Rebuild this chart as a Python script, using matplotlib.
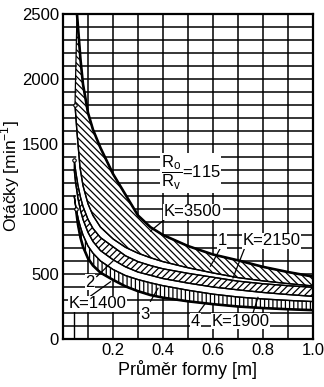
import numpy as np
import matplotlib.pyplot as plt

plt.rcParams['font.family'] = ['Liberation Sans', 'DejaVu Sans']
plt.rcParams['mathtext.fontset'] = 'custom'
plt.rcParams['mathtext.rm'] = 'Liberation Sans'
plt.rcParams['hatch.linewidth'] = 0.9

# curves: diameter [m] -> speed [1/min]
d_a = [0.056, 0.07, 0.08, 0.1, 0.12, 0.15, 0.2, 0.25, 0.3, 0.35, 0.4, 0.5, 0.6, 0.7, 0.8, 0.9, 1.0]
n_a = [2500, 2150, 1960, 1740, 1610, 1470, 1270, 1110, 950, 860, 800, 715, 650, 605, 555, 515, 480]

d_b = [0.048, 0.056, 0.068, 0.08, 0.1, 0.12, 0.15, 0.2, 0.25, 0.3, 0.35, 0.4, 0.5, 0.6, 0.7, 0.8, 0.9, 1.0]
n_b = [1800, 1590, 1320, 1180, 1040, 950, 860, 770, 705, 660, 625, 595, 548, 508, 472, 447, 426, 408]

d_c = [0.045, 0.05, 0.06, 0.07, 0.08, 0.1, 0.12, 0.15, 0.2, 0.25, 0.3, 0.35, 0.4, 0.5, 0.6, 0.7, 0.8, 0.9, 1.0]
n_c = [1380, 1300, 1180, 1090, 1020, 920, 850, 780, 710, 640, 595, 565, 540, 505, 475, 445, 425, 410, 398]

d_d = [0.045, 0.05, 0.06, 0.07, 0.08, 0.1, 0.12, 0.15, 0.2, 0.25, 0.3, 0.35, 0.4, 0.5, 0.6, 0.7, 0.8, 0.9, 1.0]
n_d = [1300, 1210, 1080, 990, 920, 820, 750, 680, 610, 555, 515, 490, 465, 430, 400, 378, 358, 342, 328]

d_e = [0.045, 0.05, 0.06, 0.07, 0.08, 0.1, 0.12, 0.15, 0.2, 0.25, 0.3, 0.35, 0.4, 0.5, 0.6, 0.7, 0.8, 0.9, 1.0]
n_e = [1100, 1030, 930, 860, 800, 715, 660, 600, 535, 488, 457, 432, 410, 375, 345, 323, 308, 297, 288]

d_f = [0.052, 0.06, 0.07, 0.08, 0.1, 0.12, 0.15, 0.2, 0.25, 0.3, 0.35, 0.4, 0.5, 0.6, 0.7, 0.8, 0.9, 1.0]
n_f = [1000, 880, 780, 710, 620, 565, 510, 455, 405, 368, 338, 318, 290, 268, 250, 238, 229, 222]

x_ticks = [0.2, 0.4, 0.6, 0.8, 1.0]
x_ticklabels = ['0.2', '0.4', '0.6', '0.8', '1.0']
y_ticks = [0, 500, 1000, 1500, 2000, 2500]

fig = plt.figure(figsize=(3.24, 3.87), dpi=100)
ax = fig.add_axes([0.1944, 0.124, 0.7716, 0.840])

ax.set_xlim(0, 1.0)
ax.set_ylim(0, 2500)
ax.set_xticks(x_ticks)
ax.set_xticklabels(x_ticklabels)
ax.set_xticks(np.arange(0, 1.001, 0.1), minor=True)
ax.set_yticks(y_ticks)
ax.set_yticks(np.arange(0, 2501, 100), minor=True)
ax.grid(which='both', color='k', lw=1.1, zorder=1)
ax.set_axisbelow(True)
ax.tick_params(which='both', length=0, labelsize=12, pad=3)
for s in ax.spines.values():
    s.set_linewidth(1.6)

# white under the bands, then the hatched bands
ax.fill(np.r_[d_a, d_f[::-1]], np.r_[n_a, n_f[::-1]], facecolor='white',
        edgecolor='none', zorder=2)
ax.fill(np.r_[d_a, d_b[::-1]], np.r_[n_a, n_b[::-1]], facecolor='none',
        edgecolor='k', hatch='\\\\\\\\\\', lw=0.9, zorder=3)
ax.fill(np.r_[d_c, d_d[::-1]], np.r_[n_c, n_d[::-1]], facecolor='none',
        edgecolor='k', hatch='/////', lw=0.9, zorder=3)
ax.fill(np.r_[d_e, d_f[::-1]], np.r_[n_e, n_f[::-1]], facecolor='none',
        edgecolor='k', hatch='||||', lw=0.9, zorder=3)

ax.plot(d_a, n_a, color='k', lw=1.9, zorder=4)
ax.plot(d_b, n_b, color='k', lw=1.0, zorder=4)
ax.plot(d_c, n_c, color='k', lw=1.0, zorder=4)
ax.plot(d_d, n_d, color='k', lw=1.0, zorder=4)
ax.plot(d_e, n_e, color='k', lw=1.0, zorder=4)
ax.plot(d_f, n_f, color='k', lw=1.9, zorder=4)
ax.plot([d_b[0], d_c[0], d_f[0]], [n_b[0], n_c[0], n_f[0]], 'o', ms=2.5,
        mfc='white', mec='k', mew=0.8, zorder=5, ls='none')
ax.plot([0.045, 0.045], [0, 300], color='k', lw=1.0, zorder=2)

box = dict(facecolor='white', edgecolor='none', pad=0.5)
def label(txt, x, y, fs=12):
    ax.text(x, y, txt, fontsize=fs, ha='center', va='center', bbox=box, zorder=6)

def leader(x0, y0, x1, y1):
    ax.plot([x0, x1], [y0, y1], color='k', lw=0.9, zorder=5)

label(r'$\dfrac{\mathrm{R_o}}{\mathrm{R_v}}$=115', 0.51, 1280)
label('K=3500', 0.52, 977)
leader(0.41, 925, 0.35, 830)
label('1', 0.636, 754)
leader(0.63, 700, 0.59, 560)
label('K=2150', 0.834, 754)
leader(0.73, 715, 0.68, 470)
label('2', 0.108, 438)
leader(0.135, 480, 0.20, 600)
label('K=1400', 0.137, 270)
leader(0.11, 330, 0.19, 440)
label('3', 0.328, 192)
leader(0.35, 290, 0.38, 390)
label('4', 0.53, 138)
leader(0.545, 210, 0.57, 275)
label('K=1900', 0.71, 138)
leader(0.76, 200, 0.78, 320)

ax.set_xlabel('Průměr formy [m]', fontsize=13, labelpad=1)
ax.set_ylabel('Otáčky [min$^{-1}$]', fontsize=12.5)
ax.yaxis.set_label_coords(-0.163, 0.5)

fig.savefig('out.png', dpi=100)
